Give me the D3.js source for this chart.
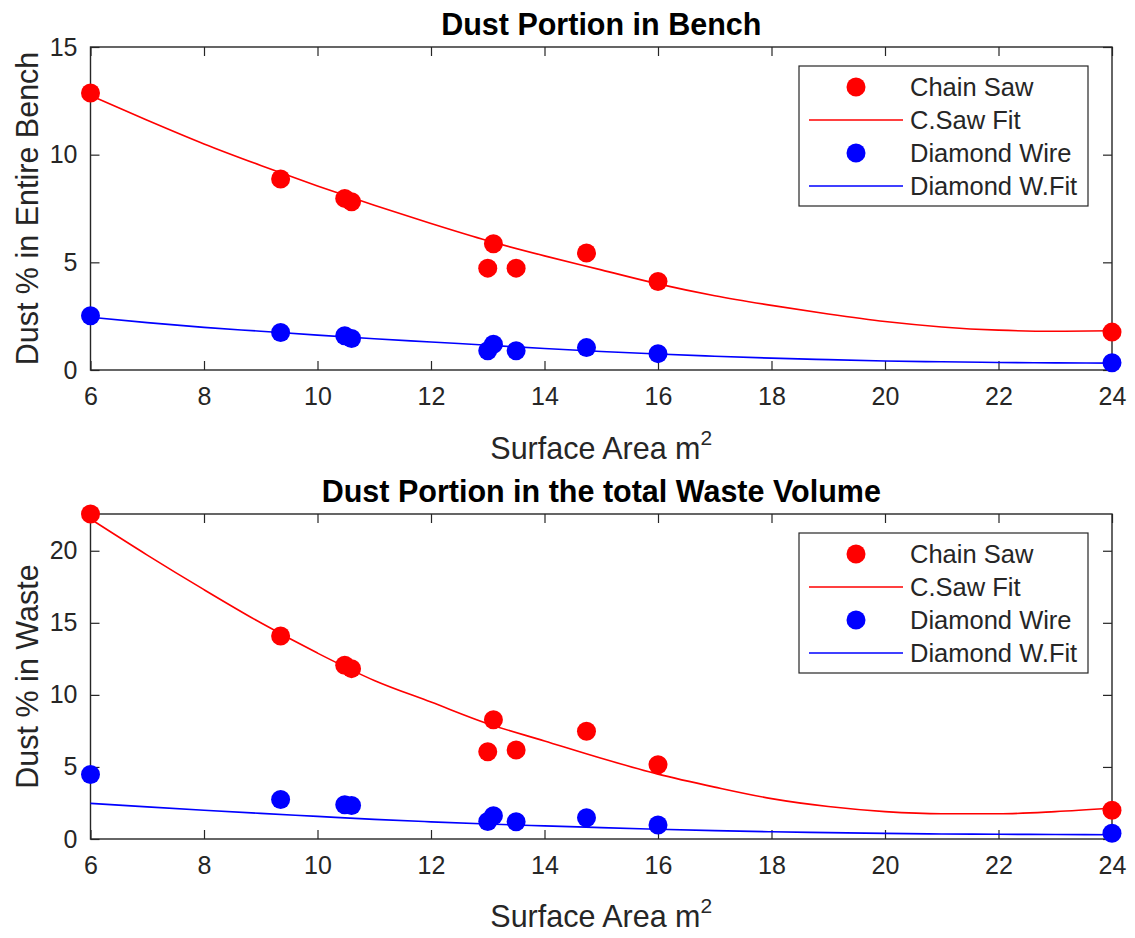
<!DOCTYPE html>
<html>
<head>
<meta charset="utf-8">
<script src="https://cdn.jsdelivr.net/npm/d3@7"></script>
<style>
  body { margin: 0; background: #fff; }
  svg { display: block; font-family: "Liberation Sans", Arial, sans-serif; }
</style>
</head>
<body>
<svg id="chart" width="1135" height="938"></svg>
<script>
// measured points (surface area in m2)
const surfaceArea = [6, 9.35, 10.48, 10.6, 13.0, 13.1, 13.5, 14.74, 16, 24];

const benchChainSaw = [12.86, 8.87, 7.97, 7.81, 4.73, 5.86, 4.73, 5.43, 4.11, 1.76];
const benchDiamondWire = [2.52, 1.74, 1.59, 1.46, 0.89, 1.2, 0.89, 1.04, 0.76, 0.34];

const wasteChainSaw = [22.55, 14.08, 12.05, 11.82, 6.05, 8.27, 6.17, 7.48, 5.15, 2.0];
const wasteDiamondWire = [4.47, 2.74, 2.38, 2.33, 1.22, 1.61, 1.2, 1.48, 0.97, 0.4];

// fitted curves
const fitX = [6, 7, 8, 9, 10, 11, 12, 13, 14, 15, 16, 17, 18, 19, 20, 21, 22, 23, 24];
const benchChainSawFit = [12.75, 11.6, 10.5, 9.5, 8.55, 7.65, 6.8, 6.0, 5.3, 4.65, 4.0, 3.45, 3.0, 2.6, 2.25, 2.0, 1.85, 1.8, 1.82];
const benchDiamondFit = [2.45, 2.2, 1.98, 1.8, 1.62, 1.45, 1.3, 1.15, 1.0, 0.86, 0.74, 0.64, 0.55, 0.48, 0.42, 0.38, 0.35, 0.33, 0.32];
const wasteChainSawFit = [22.2, 19.7, 17.3, 15.0, 12.9, 11.0, 9.5, 8.0, 6.8, 5.6, 4.5, 3.6, 2.8, 2.25, 1.9, 1.75, 1.75, 1.9, 2.15];
const wasteDiamondFit = [2.47, 2.23, 2.0, 1.78, 1.57, 1.36, 1.19, 1.04, 0.91, 0.79, 0.68, 0.58, 0.5, 0.44, 0.39, 0.35, 0.33, 0.31, 0.3];

const xTicks = [6, 8, 10, 12, 14, 16, 18, 20, 22, 24];
const legendLabels = ["Chain Saw", "C.Saw Fit", "Diamond Wire", "Diamond W.Fit"];

const axisColor = "#262626";
const svg = d3.select("#chart");
svg.append("rect").attr("width", 1135).attr("height", 938).attr("fill", "#fff");

const left = 90.5, right = 1112;

function drawPanel(p) {
  const x = d3.scaleLinear().domain([6, 24]).range([left, right]);
  const y = d3.scaleLinear().domain([0, p.yMax]).range([p.bottom, p.top]);
  const g = svg.append("g");

  // axes with inward ticks on all four sides
  const bottomAxis = g.append("g")
    .attr("transform", "translate(0," + p.bottom + ")")
    .call(d3.axisBottom(x).tickValues(xTicks).tickSizeInner(-9).tickSizeOuter(0).tickPadding(17));
  const topAxis = g.append("g")
    .attr("transform", "translate(0," + p.top + ")")
    .call(d3.axisTop(x).tickValues(xTicks).tickSizeInner(-9).tickSizeOuter(0).tickFormat(""));
  const leftAxis = g.append("g")
    .attr("transform", "translate(" + left + ",0)")
    .call(d3.axisLeft(y).tickValues(p.yTicks).tickSizeInner(-9).tickSizeOuter(0).tickPadding(13));
  const rightAxis = g.append("g")
    .attr("transform", "translate(" + right + ",0)")
    .call(d3.axisRight(y).tickValues(p.yTicks).tickSizeInner(-9).tickSizeOuter(0).tickFormat(""));

  [bottomAxis, topAxis, leftAxis, rightAxis].forEach(a => {
    a.select(".domain").remove();
    a.selectAll(".tick line").attr("stroke", axisColor).attr("stroke-width", 1.2);
    a.selectAll(".tick text").attr("fill", axisColor).style("font-size", "25px").style("font-family", "Liberation Sans, Arial, sans-serif");
  });

  g.append("rect")
    .attr("x", left).attr("y", p.top)
    .attr("width", right - left).attr("height", p.bottom - p.top)
    .attr("fill", "none").attr("stroke", axisColor).attr("stroke-width", 1.4);

  const line = d3.line()
    .x(d => x(d[0]))
    .y(d => y(d[1]))
    .curve(d3.curveMonotoneX);

  const drawDots = (vals, color) => {
    g.append("g").selectAll("circle")
      .data(surfaceArea.map((v, i) => [v, vals[i]]))
      .enter().append("circle")
      .attr("cx", d => x(d[0]))
      .attr("cy", d => y(d[1]))
      .attr("r", 9.5)
      .attr("fill", color);
  };
  const drawFit = (vals, color) => {
    g.append("path")
      .datum(fitX.map((v, i) => [v, vals[i]]))
      .attr("d", line)
      .attr("fill", "none")
      .attr("stroke", color)
      .attr("stroke-width", 1.6);
  };

  drawDots(p.chainSaw, "#ff0000");
  drawFit(p.chainSawFit, "#ff0000");
  drawDots(p.diamond, "#0000ff");
  drawFit(p.diamondFit, "#0000ff");

  // title and labels
  g.append("text")
    .attr("x", (left + right) / 2).attr("y", p.titleY)
    .attr("text-anchor", "middle")
    .style("font-size", "30.5px").style("font-weight", "bold")
    .attr("fill", "#000")
    .text(p.title);

  const xl = g.append("text")
    .attr("x", (left + right) / 2).attr("y", p.xlabelY)
    .attr("text-anchor", "middle")
    .style("font-size", "30.5px")
    .attr("fill", axisColor)
    .text("Surface Area m");
  xl.append("tspan").attr("dy", -14).style("font-size", "21px").text("2");

  g.append("text")
    .attr("transform", "translate(27," + (p.top + p.bottom) / 2 + ") rotate(-90)")
    .attr("text-anchor", "middle")
    .attr("dy", "0.35em")
    .style("font-size", "30.5px")
    .attr("fill", axisColor)
    .text(p.ylabel);

  // legend
  const lg = g.append("g").attr("transform", "translate(799," + (p.top + 19) + ")");
  lg.append("rect")
    .attr("width", 289).attr("height", 140)
    .attr("fill", "#fff").attr("stroke", axisColor).attr("stroke-width", 1.2);
  const colors = ["#ff0000", "#ff0000", "#0000ff", "#0000ff"];
  legendLabels.forEach((label, i) => {
    const cy = 21 + i * 33;
    if (i % 2 === 0) {
      lg.append("circle").attr("cx", 57).attr("cy", cy).attr("r", 9.5).attr("fill", colors[i]);
    } else {
      lg.append("line").attr("x1", 10).attr("x2", 104).attr("y1", cy).attr("y2", cy)
        .attr("stroke", colors[i]).attr("stroke-width", 1.6);
    }
    lg.append("text")
      .attr("x", 111).attr("y", cy).attr("dy", "0.35em")
      .style("font-size", "25.5px")
      .attr("fill", axisColor)
      .text(label);
  });
}

drawPanel({
  top: 47, bottom: 370, yMax: 15, yTicks: [0, 5, 10, 15],
  title: "Dust Portion in Bench", ylabel: "Dust % in Entire Bench",
  titleY: 35, xlabelY: 459,
  chainSaw: benchChainSaw, chainSawFit: benchChainSawFit,
  diamond: benchDiamondWire, diamondFit: benchDiamondFit
});

drawPanel({
  top: 514, bottom: 839, yMax: 22.55, yTicks: [0, 5, 10, 15, 20],
  title: "Dust Portion in the total Waste Volume", ylabel: "Dust % in Waste",
  titleY: 502, xlabelY: 927,
  chainSaw: wasteChainSaw, chainSawFit: wasteChainSawFit,
  diamond: wasteDiamondWire, diamondFit: wasteDiamondFit
});
</script>
</body>
</html>
